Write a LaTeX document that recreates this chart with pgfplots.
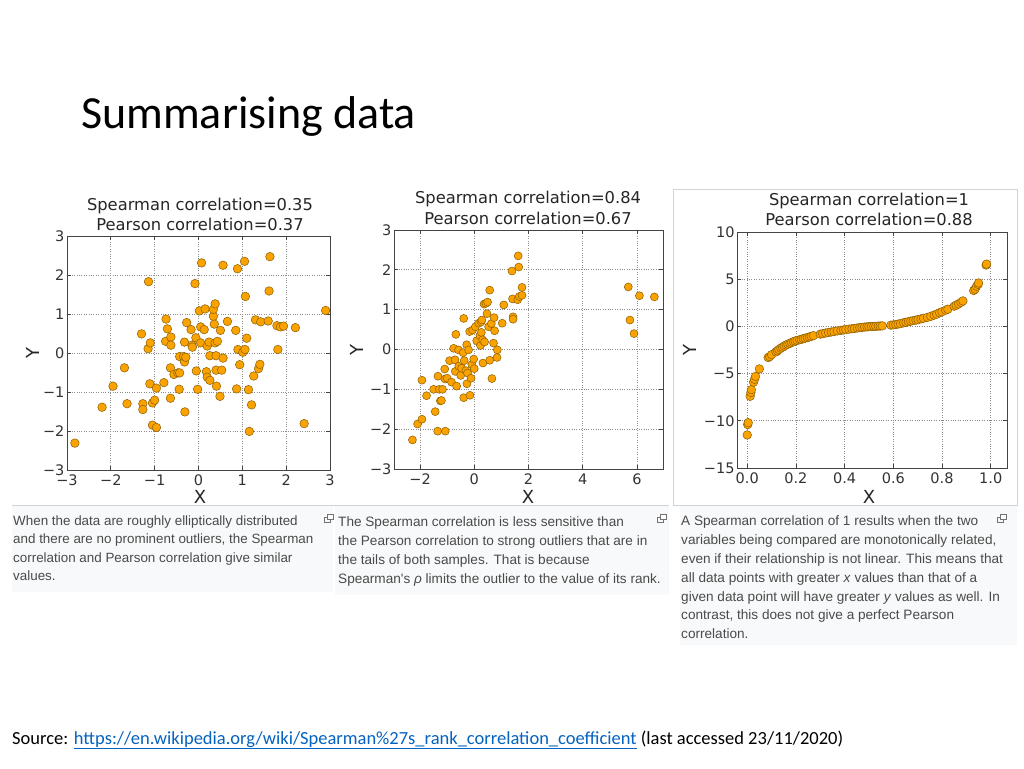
\documentclass[border=0pt]{standalone}
\usepackage{pgfplots}
\pgfplotsset{compat=1.18}
\usepackage{fontspec}
\setmainfont{Carlito}
\newfontfamily\dvfont{DejaVu Sans}
\newfontfamily\arfont{Liberation Sans}
\definecolor{mplorange}{HTML}{FAA200}
\definecolor{mpledge}{HTML}{8C5E00}
\definecolor{spine}{HTML}{444444}
\definecolor{tlab}{HTML}{333333}
\definecolor{captxt}{HTML}{4A4A4A}
\definecolor{capbg}{HTML}{F8F9FA}
\definecolor{capline}{HTML}{D0D3D7}
\definecolor{linkblue}{HTML}{0563C1}
\pgfplotsset{
  mpl/.style={
    scale only axis,
    anchor=south west,
    axis line style={draw=spine, line width=0.9pt},
    grid=major,
    major grid style={dotted, line width=0.7pt, black!45},
    major tick style={draw=spine, line width=0.8pt},
    major tick length=4pt,
    tick align=inside,
    ticklabel style={font=\dvfont\fontsize{14.5}{14.5}\selectfont, text=tlab},
    xticklabel style={yshift=-1pt},
    yticklabel style={xshift=1pt},
  },
  dots/.style={only marks, mark=*, mark size=4.3pt,
    mark options={fill=mplorange, draw=mpledge, line width=0.5pt}},
}
\newcommand{\mplttl}{\dvfont\fontsize{16.3}{16.3}\selectfont\color{black!85}}
\newcommand{\mpllab}{\dvfont\fontsize{18}{18}\selectfont\color{black!85}}
\newcommand{\mplcap}{\arfont\fontsize{13.6}{13.6}\selectfont\color{captxt}}
\newcommand{\mplcapa}{\arfont\fontsize{13.4}{13.4}\selectfont\color{captxt}}
\newcommand{\mplicon}[2]{%
  \draw[black!55, line width=0.6pt] (#1pt-4pt,-#2pt-0pt) rectangle (#1pt+2pt,-#2pt-5pt);
  \draw[black!55, line width=0.6pt, fill=white] (#1pt-1pt,-#2pt+3pt) rectangle (#1pt+5pt,-#2pt-2pt);}
\begin{document}
\begin{tikzpicture}
\path[fill=white] (0pt,0pt) rectangle (1024pt,-768pt);
% slide title
\node[anchor=base west, inner sep=0pt, font=\fontsize{46}{46}\selectfont] at (81pt,-128pt) {Summarising data};

% caption panels
\fill[capbg] (12pt,-505pt) rectangle (333pt,-592pt);
\fill[capbg] (335pt,-505pt) rectangle (669pt,-595pt);
\fill[capbg] (680pt,-505pt) rectangle (1017pt,-645pt);
\draw[capline, line width=0.6pt] (12pt,-505pt) -- (669pt,-505pt);
\draw[capline, line width=0.6pt] (673pt,-189pt) rectangle (1017pt,-505pt);

% ---------------- Plot 1 ----------------
\begin{axis}[mpl, at={(67pt,-470pt)}, width=263pt, height=234pt,
  xmin=-3, xmax=3, ymin=-3, ymax=3,
  xtick={-3,-2,-1,0,1,2,3}, xticklabels={−3,−2,−1,0,1,2,3},
  ytick={-3,-2,-1,0,1,2,3}, yticklabels={−3,−2,−1,0,1,2,3}]
\addplot[dots] table {
x y
-2.82 -2.31
-2.20 -1.39
-1.95 -0.85
-1.69 -0.38
-1.63 -1.30
-1.30 0.49
-1.27 -1.30
-1.27 -1.45
-1.14 1.83
-1.11 -0.79
-1.15 0.11
-1.10 0.26
-1.05 -1.28
-1.00 -1.21
-0.96 -0.90
-1.05 -1.85
-0.96 -1.91
-0.79 -0.76
-0.74 0.87
-0.71 0.62
-0.75 0.30
-0.63 0.41
-0.63 0.20
-0.64 -0.38
-0.64 -1.16
-0.56 -0.55
-0.47 -0.51
-0.43 -0.51
-0.44 -0.93
-0.43 -0.09
-0.34 -0.09
-0.32 -0.23
-0.29 -0.11
-0.31 -1.51
-0.32 0.28
-0.27 0.78
-0.15 0.20
-0.14 0.15
-0.17 0.60
-0.08 1.78
-0.06 0.39
-0.05 -0.46
-0.02 -0.93
0.02 1.08
0.05 0.67
0.05 0.26
0.07 2.31
0.13 0.60
0.15 1.13
0.20 0.18
0.18 -0.48
0.20 -0.62
0.26 -0.70
0.24 0.28
0.26 -0.07
0.34 0.94
0.34 1.12
0.38 1.26
0.36 0.74
0.38 0.26
0.43 0.30
0.40 -0.07
0.40 -0.44
0.41 -0.85
0.49 -1.11
0.50 0.58
0.53 -0.44
0.56 -0.13
0.56 2.25
0.66 0.81
0.85 0.58
0.87 -0.92
0.89 2.16
0.90 0.09
0.94 -0.30
1.01 0.02
1.05 2.35
1.06 0.09
1.07 1.45
1.10 0.38
1.14 -0.94
1.16 -2.01
1.21 -1.33
1.26 -0.59
1.30 0.85
1.37 -0.40
1.40 -0.29
1.42 0.80
1.59 0.82
1.61 1.59
1.63 2.47
1.79 0.70
1.81 0.09
1.87 0.67
1.94 0.69
2.21 0.65
2.41 -1.81
2.90 1.09
};
\end{axis}
\node[font=\mplttl, inner sep=0pt] at (200pt,-206pt) {Spearman correlation=0.35};
\node[font=\mplttl, inner sep=0pt] at (200pt,-224pt) {Pearson correlation=0.37};
\node[font=\mpllab, inner sep=0pt] at (200pt,-497pt) {X};
\node[font=\mpllab, inner sep=0pt, rotate=90] at (33pt,-353pt) {Y};

% ---------------- Plot 2 ----------------
\begin{axis}[mpl, at={(394pt,-469pt)}, width=269pt, height=239pt,
  xmin=-2.96, xmax=6.96, ymin=-3, ymax=3,
  xtick={-2,0,2,4,6}, xticklabels={−2,0,2,4,6},
  ytick={-3,-2,-1,0,1,2,3}, yticklabels={−3,−2,−1,0,1,2,3}]
\addplot[dots, mark size=4pt] table {
x y
-2.28 -2.27
-2.09 -1.87
-1.93 -1.75
-1.93 -0.77
-1.76 -1.16
-1.50 -1.00
-1.44 -1.56
-1.35 -2.05
-1.34 -0.67
-1.29 -1.00
-1.25 -1.29
-1.21 -1.28
-1.17 -1.00
-1.09 -0.49
-1.08 -0.74
-1.07 -2.05
-1.00 -0.72
-0.91 -0.28
-0.84 -0.82
-0.76 0.03
-0.71 -0.26
-0.70 -0.55
-0.68 0.38
-0.65 -0.92
-0.58 -0.01
-0.57 -0.42
-0.50 -0.65
-0.47 -0.47
-0.41 -0.08
-0.39 0.78
-0.39 -1.21
-0.37 -0.28
-0.31 -0.53
-0.28 0.12
-0.27 -0.86
-0.25 -0.59
-0.21 -0.01
-0.17 0.45
-0.16 -1.15
-0.12 -0.72
-0.09 -0.38
-0.06 0.49
-0.02 -0.24
0.00 -0.48
0.04 0.57
0.09 0.22
0.16 0.66
0.21 0.35
0.23 0.10
0.25 0.69
0.26 0.43
0.28 0.74
0.31 0.24
0.32 -0.34
0.36 1.14
0.38 0.19
0.43 1.16
0.47 0.90
0.49 1.19
0.53 0.57
0.57 -0.27
0.57 1.49
0.63 0.65
0.65 -0.73
0.71 0.16
0.73 0.80
0.75 0.47
0.85 -0.01
0.84 -0.20
1.03 0.66
1.09 1.12
1.39 1.97
1.41 1.27
1.43 0.82
1.43 0.76
1.60 1.25
1.64 2.07
1.62 2.35
1.66 1.33
1.76 1.36
1.76 1.56
5.68 1.57
5.74 0.74
5.89 0.40
6.09 1.35
6.64 1.32
};
\end{axis}
\node[font=\mplttl, inner sep=0pt] at (528pt,-199pt) {Spearman correlation=0.84};
\node[font=\mplttl, inner sep=0pt] at (528pt,-218pt) {Pearson correlation=0.67};
\node[font=\mpllab, inner sep=0pt] at (528pt,-497pt) {X};
\node[font=\mpllab, inner sep=0pt, rotate=90] at (357pt,-350pt) {Y};

% ---------------- Plot 3 ----------------
\begin{axis}[mpl, at={(737pt,-468pt)}, width=270pt, height=236pt,
  xmin=-0.042, xmax=1.067, ymin=-15, ymax=10,
  xtick={0,0.2,0.4,0.6,0.8,1}, xticklabels={0.0,0.2,0.4,0.6,0.8,1.0},
  ytick={-15,-10,-5,0,5,10}, yticklabels={−15,−10,−5,0,5,10}]
\addplot[dots, mark size=4.3pt] table {
x y
0.000 -11.5
0.002 -10.4
0.004 -10.2
0.012 -7.4
0.015 -7.0
0.017 -6.7
0.026 -5.9
0.030 -5.6
0.034 -5.3
0.050 -4.5
0.086 -3.3
0.092 -3.2
0.100 -3.0
0.118 -2.7
0.124 -2.6
0.130 -2.45
0.138 -2.3
0.145 -2.2
0.152 -2.08
0.160 -1.96
0.167 -1.88
0.175 -1.80
0.182 -1.70
0.190 -1.62
0.197 -1.55
0.205 -1.48
0.215 -1.42
0.222 -1.37
0.230 -1.30
0.238 -1.25
0.247 -1.18
0.255 -1.12
0.263 -1.05
0.272 -0.98
0.300 -0.82
0.310 -0.77
0.322 -0.70
0.334 -0.64
0.345 -0.59
0.356 -0.55
0.370 -0.48
0.385 -0.42
0.395 -0.38
0.405 -0.34
0.418 -0.29
0.430 -0.25
0.440 -0.22
0.452 -0.17
0.462 -0.13
0.472 -0.10
0.482 -0.07
0.492 -0.05
0.500 -0.03
0.510 -0.01
0.520 0.00
0.528 0.01
0.538 0.03
0.546 0.04
0.555 0.06
0.590 0.13
0.600 0.16
0.610 0.20
0.620 0.25
0.630 0.30
0.642 0.38
0.652 0.43
0.662 0.50
0.672 0.56
0.682 0.61
0.693 0.67
0.702 0.72
0.714 0.80
0.724 0.86
0.740 0.96
0.754 1.07
0.768 1.20
0.778 1.30
0.790 1.45
0.800 1.55
0.815 1.72
0.824 1.82
0.850 2.14
0.858 2.25
0.868 2.38
0.878 2.55
0.886 2.70
0.930 3.80
0.936 3.95
0.942 4.25
0.948 4.45
0.950 4.60
0.981 6.50
0.983 6.60
};
\end{axis}
\node[font=\mplttl, inner sep=0pt] at (869pt,-201pt) {Spearman correlation=1};
\node[font=\mplttl, inner sep=0pt] at (869pt,-219pt) {Pearson correlation=0.88};
\node[font=\mpllab, inner sep=0pt] at (869pt,-497pt) {X};
\node[font=\mpllab, inner sep=0pt, rotate=90] at (690pt,-350pt) {Y};

% ---------------- captions ----------------
\begin{scope}[every node/.style={anchor=base west, inner sep=0pt, font=\mplcapa}]
\node at (13pt,-525pt) {When the data are roughly elliptically distributed};
\node at (13pt,-543.5pt) {and there are no prominent outliers, the Spearman};
\node at (13pt,-562pt) {correlation and Pearson correlation give similar};
\node at (13pt,-580.5pt) {values.};
\end{scope}
\begin{scope}[every node/.style={anchor=base west, inner sep=0pt, font=\mplcap}]
\node at (338pt,-526pt) {The Spearman correlation is less sensitive than};
\node at (338pt,-545pt) {the Pearson correlation to strong outliers that are in};
\node at (338pt,-564pt) {the tails of both samples. That is because};
\node at (338pt,-583pt) {Spearman's \textit{ρ} limits the outlier to the value of its rank.};
\node at (681pt,-525pt) {A Spearman correlation of 1 results when the two};
\node at (681pt,-544pt) {variables being compared are monotonically related,};
\node at (681pt,-563pt) {even if their relationship is not linear. This means that};
\node at (681pt,-582pt) {all data points with greater \textit{x} values than that of a};
\node at (681pt,-601pt) {given data point will have greater \textit{y} values as well. In};
\node at (681pt,-619pt) {contrast, this does not give a perfect Pearson};
\node at (681pt,-638pt) {correlation.};
\end{scope}
\mplicon{328}{517}
\mplicon{661}{517}
\mplicon{1001}{517}

% source line
\node[anchor=base west, inner sep=0pt, font=\fontsize{18.5}{18.5}\selectfont] at (12pt,-744pt)
 {Source: {\color{linkblue}\underline{https://en.wikipedia.org/wiki/Spearman\%27s\_rank\_correlation\_coefficient}} (last accessed 23/11/2020)};
\end{tikzpicture}
\end{document}
